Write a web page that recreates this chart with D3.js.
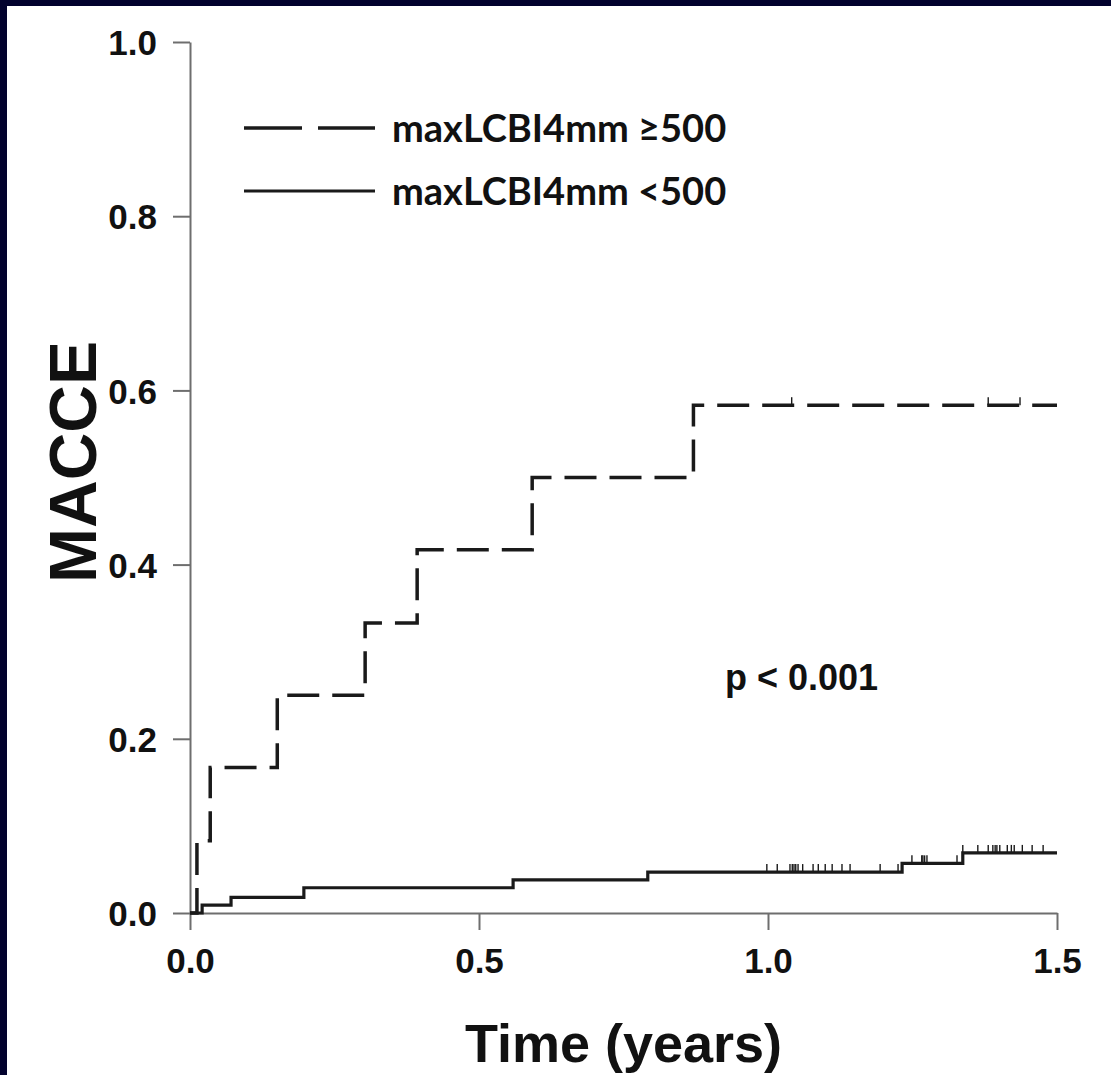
<!DOCTYPE html>
<html>
<head>
<meta charset="utf-8">
<script src="https://cdn.jsdelivr.net/npm/d3@7"></script>
<style>
  html, body { margin: 0; padding: 0; background: #fff; }
  svg { display: block; }
</style>
</head>
<body>
<div id="chart"></div>
<script>
// KM curves (time in years, cumulative MACCE)
const highTimes  = [0, 0.012, 0.035, 0.151, 0.303, 0.393, 0.592, 0.871, 1.5];
const highValues = [0, 0.083, 0.167, 0.250, 0.333, 0.417, 0.500, 0.583, 0.583];
const highCensor = [1.041, 1.381, 1.436];

const lowTimes  = [0, 0.021, 0.071, 0.197, 0.559, 0.792, 1.232, 1.337, 1.5];
const lowValues = [0, 0.009, 0.018, 0.029, 0.038, 0.047, 0.057, 0.069, 0.069];
const lowCensor = [0.998, 1.016, 1.038, 1.042, 1.045, 1.048, 1.052, 1.060, 1.078, 1.087,
                   1.099, 1.111, 1.128, 1.142, 1.194, 1.225,
                   1.249, 1.266, 1.268, 1.271, 1.275, 1.327,
                   1.337, 1.363, 1.381, 1.389, 1.393, 1.396, 1.401, 1.414, 1.421, 1.426,
                   1.440, 1.457, 1.476];

const xTicks = [0, 0.5, 1.0, 1.5];
const yTicks = [0, 0.2, 0.4, 0.6, 0.8, 1.0];
const legendLabels = ['maxLCBI4mm \u2265500', 'maxLCBI4mm <500'];

const W = 1111, H = 1075;
const margin = {left: 190, top: 42, right: 54, bottom: 162};

const svg = d3.select('#chart').append('svg')
  .attr('width', W).attr('height', H);

svg.append('rect').attr('width', W).attr('height', H).attr('fill', '#fff');
// navy frame on top and left edges
svg.append('rect').attr('x', 0).attr('y', 0).attr('width', W).attr('height', 6).attr('fill', '#02022e');
svg.append('rect').attr('x', 0).attr('y', 0).attr('width', 7).attr('height', H).attr('fill', '#02022e');

const x = d3.scaleLinear().domain([0, 1.5]).range([margin.left, W - margin.right]);
const y = d3.scaleLinear().domain([0, 1]).range([H - margin.bottom, margin.top]);

const axisColor = '#6e6e6e';
const tickFont = '"Liberation Sans", Arial, sans-serif';

// x axis
const xAxis = svg.append('g')
  .attr('transform', `translate(0,${y(0)})`)
  .call(d3.axisBottom(x).tickValues(xTicks).tickFormat(d3.format('.1f'))
    .tickSizeInner(17).tickSizeOuter(0).tickPadding(18));
// y axis
const yAxis = svg.append('g')
  .attr('transform', `translate(${x(0)},0)`)
  .call(d3.axisLeft(y).tickValues(yTicks).tickFormat(d3.format('.1f'))
    .tickSizeInner(17).tickSizeOuter(0).tickPadding(16));

[xAxis, yAxis].forEach(g => {
  g.select('.domain').attr('stroke', axisColor).attr('stroke-width', 2);
  g.selectAll('.tick line').attr('stroke', axisColor).attr('stroke-width', 2);
  g.selectAll('.tick text')
    .attr('fill', '#111')
    .style('font-family', tickFont)
    .style('font-weight', 'bold')
    .style('font-size', '35px');
});
yAxis.selectAll('.tick text').attr('dy', '0.36em');

// step lines
const line = d3.line()
  .x(d => x(d[0]))
  .y(d => y(d[1]))
  .curve(d3.curveStepAfter);

svg.append('path')
  .datum(d3.zip(highTimes, highValues))
  .attr('d', line)
  .attr('fill', 'none')
  .attr('stroke', '#1a1a1a')
  .attr('stroke-width', 3.5)
  .attr('stroke-dasharray', '32,13');

svg.append('path')
  .datum(d3.zip(lowTimes, lowValues))
  .attr('d', line)
  .attr('fill', 'none')
  .attr('stroke', '#1a1a1a')
  .attr('stroke-width', 3.2);

// censor marks
const stepValue = (times, values, t) => values[d3.bisectRight(times, t) - 1];
function drawCensor(list, times, values) {
  svg.append('g').selectAll('line')
    .data(list)
    .join('line')
    .attr('x1', d => x(d)).attr('x2', d => x(d))
    .attr('y1', d => y(stepValue(times, values, d)) - 8)
    .attr('y2', d => y(stepValue(times, values, d)))
    .attr('stroke', '#1a1a1a')
    .attr('stroke-width', 1.4);
}
drawCensor(highCensor, highTimes, highValues);
drawCensor(lowCensor, lowTimes, lowValues);

// legend
const legendFont = 'Lato, "Open Sans", sans-serif';
const legend = svg.append('g');
const rows = [128, 191];
legend.append('line')
  .attr('x1', 244).attr('x2', 375).attr('y1', rows[0]).attr('y2', rows[0])
  .attr('stroke', '#1a1a1a').attr('stroke-width', 3.5).attr('stroke-dasharray', '58,16');
legend.append('line')
  .attr('x1', 244).attr('x2', 375).attr('y1', rows[1]).attr('y2', rows[1])
  .attr('stroke', '#1a1a1a').attr('stroke-width', 3.2);
legend.selectAll('text')
  .data(legendLabels)
  .join('text')
  .attr('x', 392)
  .attr('y', (d, i) => rows[i] + 14)
  .attr('fill', '#111')
  .style('font-family', legendFont)
  .style('font-weight', 'bold')
  .style('font-size', '38px')
  .text(d => d);

// p value
svg.append('text')
  .attr('x', 725).attr('y', 690)
  .attr('fill', '#111')
  .style('font-family', tickFont)
  .style('font-weight', 'bold')
  .style('font-size', '36px')
  .text('p < 0.001');

// axis titles
svg.append('text')
  .attr('x', (x(0) + x(1.5)) / 2).attr('y', 1062)
  .attr('text-anchor', 'middle')
  .attr('fill', '#111')
  .style('font-family', tickFont)
  .style('font-weight', 'bold')
  .style('font-size', '54px')
  .text('Time (years)');

svg.append('text')
  .attr('transform', 'translate(96,462) rotate(-90)')
  .attr('text-anchor', 'middle')
  .attr('fill', '#111')
  .style('font-family', tickFont)
  .style('font-weight', 'bold')
  .style('font-size', '66px')
  .text('MACCE');
</script>
</body>
</html>
